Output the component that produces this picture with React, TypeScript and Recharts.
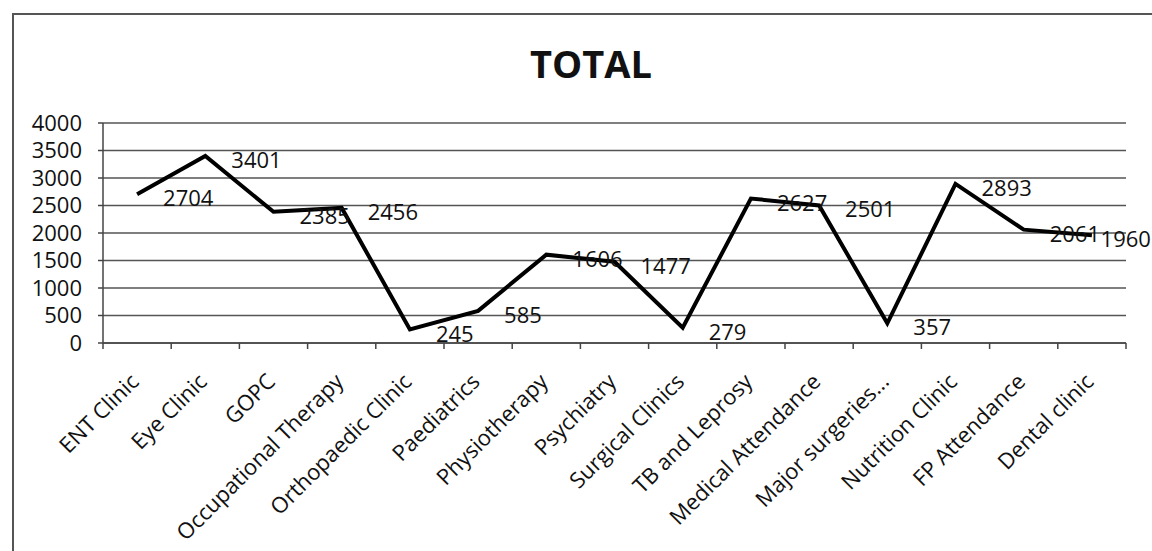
import React from "react";
import {
  LineChart,
  Line,
  XAxis,
  YAxis,
  CartesianGrid,
  LabelList,
} from "recharts";

// Attendance totals per clinic / service
const categories = [
  "ENT Clinic",
  "Eye Clinic",
  "GOPC",
  "Occupational Therapy",
  "Orthopaedic Clinic",
  "Paediatrics",
  "Physiotherapy",
  "Psychiatry",
  "Surgical Clinics",
  "TB and Leprosy",
  "Medical Attendance",
  "Major surgeries...",
  "Nutrition Clinic",
  "FP Attendance",
  "Dental clinic",
];

const totals = [
  2704, 3401, 2385, 2456, 245, 585, 1606, 1477, 279, 2627, 2501, 357, 2893,
  2061, 1960,
];

const yTicks = [0, 500, 1000, 1500, 2000, 2500, 3000, 3500, 4000];

// Each category sits in the middle of its slot; slot edges carry tick marks.
const data = categories.map((name, i) => ({
  pos: i + 0.5,
  name,
  value: totals[i],
}));

const xTicks: number[] = [];
for (let i = 0; i <= categories.length * 2; i++) xTicks.push(i / 2);

const FONT = "'Open Sans', sans-serif";
const CHART_W = 1152;

const CategoryTick = (props: any) => {
  const { x, y, payload } = props;
  const v = payload.value as number;
  if (Number.isInteger(v)) {
    return <line x1={x} y1={y} x2={x} y2={y + 6} stroke="#444" strokeWidth={1.5} />;
  }
  const label = categories[Math.floor(v)];
  const ax = x + 3;
  const ay = y + 40;
  return (
    <text
      x={ax}
      y={ay}
      textAnchor="end"
      fontSize={22}
      fontFamily={FONT}
      fill="#111"
      transform={`rotate(-45 ${ax} ${ay})`}
    >
      {label}
    </text>
  );
};

// Value label to the right of each point, pulled back inside the chart edge if needed
const ValueLabel = (props: any) => {
  const { x, y, value } = props;
  const text = String(value);
  const w = text.length * 12.6;
  const lx = Math.min(x + 26, CHART_W - 1 - w);
  return (
    <text
      x={lx}
      y={y + 3}
      dominantBaseline="central"
      fontSize={22}
      fontFamily={FONT}
      fill="#111"
    >
      {text}
    </text>
  );
};

export default function App() {
  return (
    <div
      style={{
        position: "absolute",
        left: 0,
        top: 0,
        width: 1152,
        height: 551,
        overflow: "hidden",
        background: "#fff",
      }}
    >
      <div
        style={{
          position: "absolute",
          left: 12,
          top: 13,
          width: 1200,
          height: 600,
          borderTop: "2px solid #555",
          borderLeft: "2px solid #555",
        }}
      />
      <div
        style={{
          position: "absolute",
          left: 0,
          top: 44,
          width: 1182,
          textAlign: "center",
          fontFamily: FONT,
          fontWeight: 700,
          fontSize: 38,
          lineHeight: "38px",
          color: "#111",
        }}
      >
        TOTAL
      </div>
      <div style={{ position: "absolute", left: 0, top: 0 }}>
        <LineChart
          width={CHART_W}
          height={551}
          data={data}
          margin={{ top: 123, right: 26, left: 0, bottom: 0 }}
        >
          <CartesianGrid
            vertical={false}
            stroke="#555"
            strokeWidth={1.5}
            horizontalValues={yTicks}
          />
          <XAxis
            dataKey="pos"
            type="number"
            domain={[0, categories.length]}
            ticks={xTicks}
            interval={0}
            height={208}
            tickSize={0}
            tickMargin={0}
            tickLine={false}
            axisLine={{ stroke: "#444", strokeWidth: 1.5 }}
            tick={<CategoryTick />}
          />
          <YAxis
            type="number"
            domain={[0, 4000]}
            ticks={yTicks}
            interval={0}
            width={103}
            tickSize={5}
            tickMargin={16}
            axisLine={{ stroke: "#444", strokeWidth: 1.5 }}
            tickLine={{ stroke: "#444", strokeWidth: 1.5 }}
            tick={{ fontSize: 22, fontFamily: FONT, fill: "#111" }}
          />
          <Line
            type="linear"
            dataKey="value"
            stroke="#000"
            strokeWidth={4}
            dot={false}
            isAnimationActive={false}
          >
            <LabelList dataKey="value" content={<ValueLabel />} />
          </Line>
        </LineChart>
      </div>
    </div>
  );
}
